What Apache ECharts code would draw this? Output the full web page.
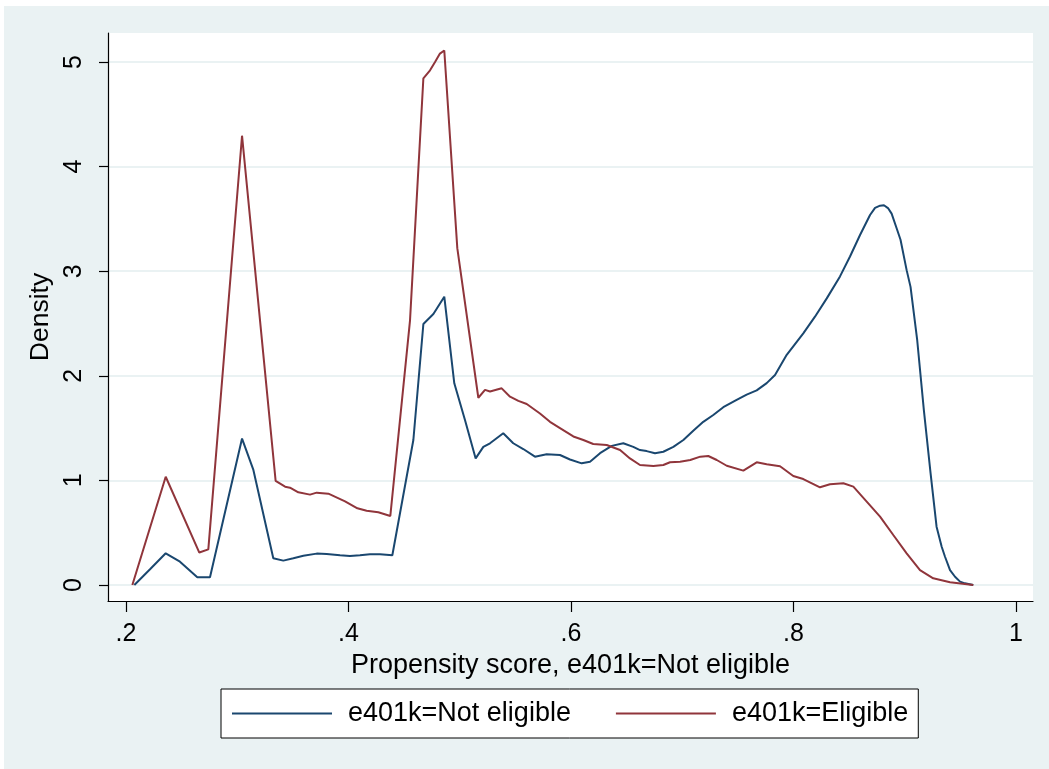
<!DOCTYPE html>
<html>
<head>
<meta charset="utf-8">
<script src="https://cdn.jsdelivr.net/npm/echarts@6/dist/echarts.min.js"></script>
<style>
  html, body { margin: 0; padding: 0; background: #ffffff; }
  #chart { width: 1049px; height: 769px; }
</style>
</head>
<body>
<div id="chart"></div>
<script>
// Kernel density of the propensity score, by 401(k) eligibility
const seriesNames = ['e401k=Not eligible', 'e401k=Eligible'];

// [propensity score, density]
const notEligible = [
  [0.2075, 0], [0.2216, 0.15], [0.2357, 0.303], [0.2485, 0.223], [0.2641, 0.074],
  [0.2755, 0.074], [0.3043, 1.40], [0.3145, 1.10], [0.3324, 0.255], [0.3414, 0.233],
  [0.3504, 0.255], [0.3594, 0.28], [0.3714, 0.30], [0.3804, 0.296], [0.3924, 0.284],
  [0.4013, 0.277], [0.4103, 0.284], [0.4193, 0.293], [0.4283, 0.293], [0.4394, 0.284],
  [0.4583, 1.386], [0.4673, 2.495], [0.4763, 2.59], [0.4861, 2.756], [0.4951, 1.928],
  [0.5047, 1.577], [0.5143, 1.21], [0.5212, 1.32], [0.5272, 1.355], [0.5391, 1.45],
  [0.5481, 1.355], [0.5571, 1.30], [0.5676, 1.227], [0.5781, 1.25], [0.5901, 1.243],
  [0.5991, 1.20], [0.6096, 1.163], [0.6171, 1.179], [0.6261, 1.26], [0.6366, 1.33],
  [0.6470, 1.355], [0.6560, 1.32], [0.6620, 1.29], [0.6680, 1.28], [0.6755, 1.26],
  [0.6830, 1.274], [0.6920, 1.32], [0.7010, 1.386], [0.7099, 1.475], [0.7189, 1.56],
  [0.7279, 1.625], [0.7369, 1.70], [0.7489, 1.77], [0.7579, 1.82], [0.7669, 1.86],
  [0.7759, 1.93], [0.7834, 2.008], [0.7939, 2.20], [0.8088, 2.406], [0.8193, 2.565],
  [0.8299, 2.74], [0.8418, 2.95], [0.8508, 3.14], [0.8598, 3.346], [0.8688, 3.537],
  [0.8733, 3.605], [0.8778, 3.626], [0.8813, 3.630], [0.8852, 3.60], [0.8882, 3.55],
  [0.8927, 3.41], [0.8962, 3.30], [0.9017, 3.01], [0.9052, 2.85], [0.9112, 2.34],
  [0.9172, 1.67], [0.9232, 1.07], [0.9286, 0.557], [0.9332, 0.366], [0.9362, 0.27],
  [0.9407, 0.143], [0.9452, 0.079], [0.9497, 0.032], [0.9541, 0.016], [0.9616, 0]
];

const eligible = [
  [0.2057, 0], [0.2357, 1.035], [0.2659, 0.31], [0.2740, 0.34], [0.3043, 4.295],
  [0.3345, 0.995], [0.3430, 0.94], [0.3474, 0.93], [0.3549, 0.886], [0.3654, 0.864],
  [0.3714, 0.883], [0.3819, 0.873], [0.3969, 0.80], [0.4080, 0.733], [0.4163, 0.71],
  [0.4268, 0.695], [0.4376, 0.66], [0.4553, 2.53], [0.4673, 4.844], [0.4733, 4.92],
  [0.4778, 5.0], [0.4822, 5.08], [0.4861, 5.11], [0.4978, 3.22], [0.5167, 1.79],
  [0.5227, 1.865], [0.5272, 1.85], [0.5377, 1.88], [0.5452, 1.80], [0.5527, 1.76],
  [0.5602, 1.73], [0.5721, 1.64], [0.5811, 1.56], [0.5901, 1.50], [0.6021, 1.42],
  [0.6111, 1.386], [0.6200, 1.348], [0.6321, 1.338], [0.6441, 1.29], [0.6530, 1.21],
  [0.6620, 1.147], [0.6740, 1.138], [0.6830, 1.147], [0.6890, 1.173], [0.6980, 1.179],
  [0.7072, 1.195], [0.7162, 1.227], [0.7234, 1.233], [0.7310, 1.195], [0.7400, 1.14],
  [0.7549, 1.093], [0.7669, 1.173], [0.7759, 1.154], [0.7879, 1.135], [0.7998, 1.042],
  [0.8088, 1.013], [0.8238, 0.934], [0.8328, 0.963], [0.8448, 0.972], [0.8538, 0.94],
  [0.8658, 0.797], [0.8778, 0.653], [0.8897, 0.478], [0.9017, 0.303], [0.9137, 0.143],
  [0.9256, 0.064], [0.9407, 0.026], [0.9616, 0]
];

const xTicks = [0.2, 0.4, 0.6, 0.8, 1];
const yTicks = [0, 1, 2, 3, 4, 5];
const xTitle = 'Propensity score, e401k=Not eligible';
const yTitle = 'Density';

const FONT = '"Liberation Sans", Arial, sans-serif';
const BLUE = '#1a476f';
const RED = '#90353b';
const PANEL = '#eaf2f3';

const chart = echarts.init(document.getElementById('chart'), null, { renderer: 'canvas' });

chart.setOption({
  animation: false,
  backgroundColor: '#ffffff',
  textStyle: { fontFamily: FONT },
  graphic: [{
    type: 'rect', z: -10, silent: true,
    shape: { x: 4, y: 6, width: 1045, height: 763 },
    style: { fill: PANEL }
  }],
  grid: {
    left: 108, top: 33, right: 16, bottom: 168,
    show: true, backgroundColor: '#ffffff', borderWidth: 0
  },
  legend: {
    data: seriesNames,
    left: 221, top: 689,
    orient: 'horizontal',
    padding: [11, 10, 11, 11],
    itemGap: 45,
    itemWidth: 100, itemHeight: 2,
    icon: 'rect',
    backgroundColor: '#ffffff',
    borderColor: '#000000', borderWidth: 1, borderRadius: 0,
    textStyle: { fontFamily: FONT, fontSize: 27, color: '#000', padding: [0, 0, 0, 11] }
  },
  xAxis: {
    type: 'value',
    min: 0.18382, max: 1.01528,
    name: xTitle, nameLocation: 'middle', nameGap: 41,
    nameTextStyle: { fontFamily: FONT, fontSize: 27, color: '#000' },
    axisLine: { show: true, onZero: false, lineStyle: { color: '#000', width: 1.2 } },
    axisTick: { show: true, length: 11, customValues: xTicks, lineStyle: { color: '#000', width: 1.2 } },
    axisLabel: {
      customValues: xTicks, margin: 21, fontSize: 25, color: '#000', fontFamily: FONT,
      formatter: v => (Math.abs(v - 1) < 1e-9 ? '1' : String(+v.toFixed(1)).replace(/^0\./, '.'))
    },
    splitLine: { show: false }
  },
  yAxis: {
    type: 'value',
    min: -0.153, max: 5.277,
    name: yTitle, nameLocation: 'middle', nameGap: 48,
    nameTextStyle: { fontFamily: FONT, fontSize: 26.5, color: '#000' },
    axisLine: { show: true, onZero: false, lineStyle: { color: '#000', width: 1.2 } },
    axisTick: { show: true, length: 9, customValues: yTicks, lineStyle: { color: '#000', width: 1.2 } },
    axisLabel: {
      customValues: yTicks, rotate: 90, margin: 21, fontSize: 25, color: '#000', fontFamily: FONT
    },
    splitLine: { show: true, lineStyle: { color: PANEL, width: 2 } }
  },
  series: [
    {
      name: seriesNames[0], type: 'line', data: notEligible,
      showSymbol: false, symbol: 'none',
      lineStyle: { color: BLUE, width: 2 }, itemStyle: { color: BLUE }
    },
    {
      name: seriesNames[1], type: 'line', data: eligible,
      showSymbol: false, symbol: 'none',
      lineStyle: { color: RED, width: 2 }, itemStyle: { color: RED }
    }
  ]
});
</script>
</body>
</html>
